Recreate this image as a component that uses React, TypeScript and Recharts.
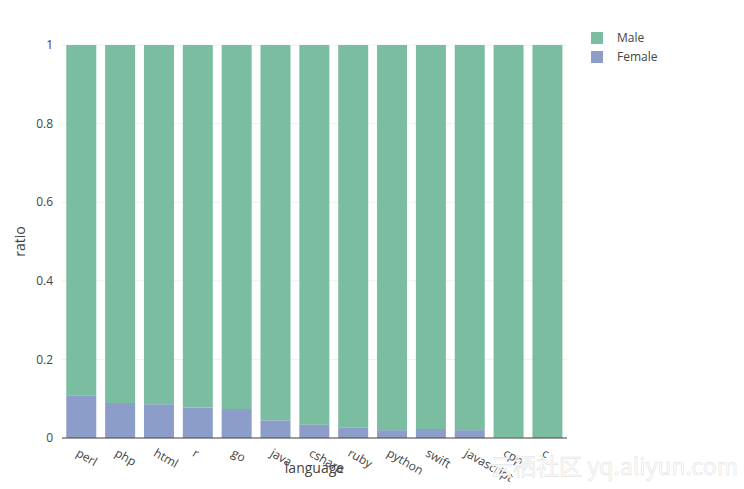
import React from 'react';
import { BarChart, Bar, XAxis, YAxis, CartesianGrid } from 'recharts';

const LANGUAGES = ['perl', 'php', 'html', 'r', 'go', 'java', 'csharp', 'ruby', 'python', 'swift', 'javascript', 'cpp', 'c'];
const FEMALE = [0.109, 0.089, 0.086, 0.078, 0.074, 0.045, 0.034, 0.027, 0.02, 0.023, 0.02, 0.001, 0];
const MALE = FEMALE.map((f) => 1 - f);
const Y_TICKS = [0, 0.2, 0.4, 0.6, 0.8, 1];

const MALE_COLOR = '#7bbda0';
const FEMALE_COLOR = '#8d9dc9';
const FONT = '"Open Sans", sans-serif';

const data = LANGUAGES.map((language, i) => ({ language, female: FEMALE[i], male: MALE[i] }));

const AngledTick = (props: any) => {
  const { x, y, payload } = props;
  return (
    <g transform={`translate(${x - 2},${y + 2})`}>
      <text transform="rotate(30)" textAnchor="start" dy="0.71em" fontSize={12} fill="#444" fontFamily={FONT}>
        {payload.value}
      </text>
    </g>
  );
};

// legend drawn as plain html so it does not eat into the plot width
const LegendBox = () => (
  <div style={{ position: 'absolute', left: 591, top: 28, fontFamily: FONT, fontSize: 12, color: '#444' }}>
    {[
      { name: 'Male', color: MALE_COLOR },
      { name: 'Female', color: FEMALE_COLOR },
    ].map((item) => (
      <div key={item.name} style={{ display: 'flex', alignItems: 'center', height: 19 }}>
        <span style={{ width: 12, height: 12, background: item.color, display: 'inline-block', marginRight: 14 }} />
        <span>{item.name}</span>
      </div>
    ))}
  </div>
);

export default function App() {
  return (
    <div style={{ position: 'absolute', left: 0, top: 0, width: 744, height: 489, background: '#fff' }}>
      <BarChart
        width={744}
        height={489}
        data={data}
        margin={{ top: 45, right: 177, bottom: 0, left: 0 }}
        barCategoryGap="11%"
      >
        <CartesianGrid vertical={false} stroke="#f0f0f0" />
        <XAxis
          dataKey="language"
          height={51}
          tickLine={false}
          axisLine={{ stroke: '#444', strokeWidth: 1 }}
          tick={<AngledTick />}
          interval={0}
          label={{ value: 'language', position: 'insideBottom', offset: 16, fill: '#444', fontSize: 14, fontFamily: FONT }}
        />
        <YAxis
          width={62}
          domain={[0, 1]}
          ticks={Y_TICKS}
          tickLine={false}
          axisLine={false}
          tickMargin={3}
          tick={{ fill: '#444', fontSize: 12, fontFamily: FONT }}
          label={{
            value: 'ratio',
            angle: -90,
            position: 'insideLeft',
            offset: 20,
            fill: '#444',
            fontSize: 14,
            fontFamily: FONT,
            style: { textAnchor: 'middle' },
          }}
        />
        <Bar dataKey="female" name="Female" stackId="a" fill={FEMALE_COLOR} isAnimationActive={false} />
        <Bar dataKey="male" name="Male" stackId="a" fill={MALE_COLOR} isAnimationActive={false} />
      </BarChart>
      <LegendBox />
      <div
        style={{
          position: 'absolute',
          left: 490,
          top: 448,
          fontFamily: '"Noto Sans CJK SC", sans-serif',
          fontSize: 23,
          color: '#fff',
          WebkitTextStroke: '0.5px #dcdcdc',
          whiteSpace: 'nowrap',
        }}
      >
        云栖社区 yq.aliyun.com
      </div>
    </div>
  );
}
